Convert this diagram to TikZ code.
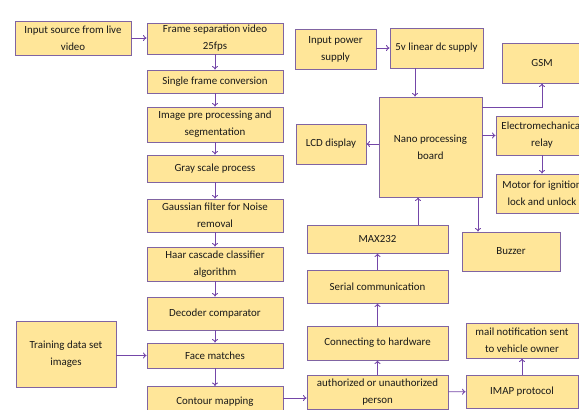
\documentclass[tikz,border=0pt]{standalone}
\usepackage{fontspec}
\setmainfont{Carlito}
\usetikzlibrary{arrows.meta,calc}
\definecolor{boxfill}{HTML}{FFE699}
\definecolor{boxline}{HTML}{8064A2}
\definecolor{arrcol}{HTML}{7446A8}
\tikzset{
  box/.style={draw=boxline, fill=boxfill, line width=0.9pt, align=center,
    inner sep=1pt, font=\fontsize{10.9}{17}\selectfont, text=black!90},
  arr/.style={draw=arrcol, line width=0.9pt, -{To[length=3.5pt,width=6pt]}}
}
\newcommand{\bx}[6]{\node[box, minimum width=#4pt, minimum height=#5pt] (#1) at (#2,#3) {#6};}
\begin{document}
\begin{tikzpicture}[x=1pt,y=-1pt]
\useasboundingbox (0,0) rectangle (579,410);
% left chain
\bx{src}{73}{38}{116}{34}{Input source from live\\video}
\bx{frame}{215}{38.5}{136}{31}{Frame separation video\\25fps}
\bx{single}{215}{81.5}{136}{23}{Single frame conversion}
\bx{imgpre}{215}{124.5}{136}{35}{Image pre processing and\\segmentation}
\bx{gray}{215}{168.5}{136}{27}{Gray scale process}
\bx{gauss}{215}{215.5}{136}{33}{Gaussian filter for Noise\\removal}
\bx{haar}{215}{264}{136}{34}{Haar cascade classifier\\algorithm}
\bx{decoder}{215}{313.5}{136}{33}{Decoder comparator}
\bx{face}{215}{355.5}{136}{25}{Face matches}
\node[box, minimum width=136pt, minimum height=34pt, anchor=north] (contour) at (215,386) {\raisebox{5pt}{Contour mapping}};
\bx{train}{66}{354}{100}{66}{Training data set\\images}
% right side
\bx{power}{335.5}{49}{81}{40}{Input power\\supply}
\bx{dc}{436.5}{48}{93}{40}{5v linear dc supply}
\bx{gsm}{542}{63}{80}{40}{GSM}
\bx{nano}{430.5}{147}{103}{100}{Nano processing\\board}
\bx{lcd}{331}{144}{70}{40}{LCD display}
\bx{relay}{542}{135.5}{92}{39}{Electromechanical\\relay}
\bx{motor}{542}{193.5}{92}{39}{Motor for ignition\\lock and unlock}
\bx{max}{377.5}{239}{141}{28}{MAX232}
\bx{buzzer}{511}{251.5}{98}{39}{Buzzer}
\bx{serial}{377.5}{286.5}{141}{33}{Serial communication}
\bx{connect}{377.5}{343}{141}{34}{Connecting to hardware}
\bx{auth}{377.5}{392}{141}{34}{authorized or unauthorized\\person}
\bx{mail}{522}{340.5}{112}{35}{mail notification sent\\to vehicle owner}
\bx{imap}{522}{391.5}{112}{33}{IMAP protocol}
% helper coordinates
\coordinate (xdc) at (415,0);
\coordinate (xmax) at (418,0);
\coordinate (xbuz) at (478,0);
\coordinate (ygsm) at (0,107);
\coordinate (ycon) at (0,398);
% arrows left chain
\draw[arr] (src.east) -- (frame.west |- src.east);
\draw[arr] (frame) -- (single);
\draw[arr] (single) -- (imgpre);
\draw[arr] (imgpre) -- (gray);
\draw[arr] (gray) -- (gauss);
\draw[arr] (gauss) -- (haar);
\draw[arr] (haar) -- (decoder);
\draw[arr] (decoder) -- (face);
\draw[arr] (face) -- (contour);
\draw[arr] (train.east |- face) -- (face.west);
\draw[arr] (contour.east |- ycon) -- (auth.west |- ycon);
\draw[arr] (auth) -- (imap);
\draw[arr] (imap) -- (mail);
\draw[arr] (auth) -- (connect);
\draw[arr] (connect) -- (serial);
\draw[arr] (serial) -- (max);
\draw[arr] (max.north -| xmax) -- (nano.south -| xmax);
\draw[arr] (nano.south -| xbuz) -- (buzzer.north -| xbuz);
\draw[arr] (power.east |- dc) -- (dc.west);
\draw[arr] (dc.south -| xdc) -- (nano.north -| xdc);
\draw[arr] (nano.west |- lcd) -- (lcd.east);
\draw[arr] (nano.east |- ygsm) -| (gsm.south);
\draw[arr] (nano.east |- relay) -- (relay.west);
\draw[arr] (relay) -- (motor);
\end{tikzpicture}
\end{document}
